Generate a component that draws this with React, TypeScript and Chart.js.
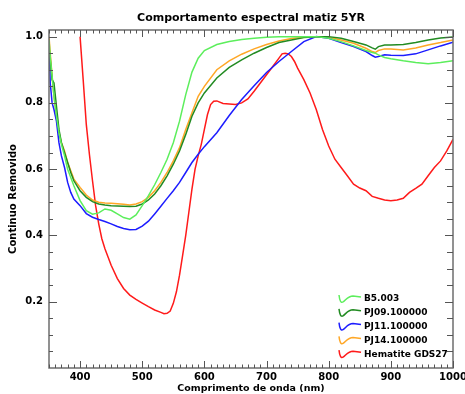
import React, { useEffect, useRef } from "react";
import { Chart, registerables } from "chart.js";
Chart.register(...registerables);

const chartTitle = "Comportamento espectral matiz 5YR";
const xAxisTitle = "Comprimento de onda (nm)";
const yAxisTitle = "Continuo Removido";

const xTickValues = [400, 500, 600, 700, 800, 900, 1000];
const yTickValues = [0.2, 0.4, 0.6, 0.8, 1.0];

const wavelengths = [350, 352, 355, 358, 362, 366, 370, 375, 380, 385, 390, 400, 410, 420, 430, 440, 450, 460, 470, 480, 490, 500, 510, 520, 530, 540, 550, 560, 570, 580, 590, 600, 620, 640, 660, 680, 700, 720, 740, 760, 780, 800, 820, 840, 860, 870, 875, 880, 890, 900, 920, 940, 960, 980, 1000];

const b5003 = [0.99, 0.94, 0.88, 0.82, 0.76, 0.71, 0.675, 0.64, 0.6, 0.575, 0.55, 0.505, 0.475, 0.464, 0.468, 0.48, 0.476, 0.465, 0.454, 0.449, 0.462, 0.49, 0.52, 0.553, 0.59, 0.63, 0.68, 0.745, 0.825, 0.893, 0.935, 0.958, 0.976, 0.985, 0.991, 0.995, 0.998, 1.0, 1.0, 1.0, 1.0, 0.995, 0.985, 0.972, 0.958, 0.952, 0.95, 0.945, 0.937, 0.933, 0.927, 0.922, 0.918, 0.922, 0.927];

const pj09 = [0.97, 0.93, 0.87, 0.86, 0.79, 0.72, 0.68, 0.65, 0.62, 0.59, 0.565, 0.535, 0.515, 0.502, 0.495, 0.492, 0.49, 0.489, 0.488, 0.487, 0.488, 0.495, 0.507, 0.525, 0.55, 0.58, 0.615, 0.655, 0.705, 0.76, 0.8, 0.83, 0.875, 0.907, 0.93, 0.95, 0.967, 0.982, 0.99, 0.997, 1.0, 1.0, 0.995, 0.985, 0.975, 0.966, 0.962, 0.97, 0.975, 0.975, 0.976, 0.982, 0.99, 0.996, 0.999];

const pj11 = [0.975, 0.86, 0.8, 0.78, 0.745, 0.68, 0.64, 0.605, 0.56, 0.53, 0.51, 0.49, 0.466, 0.455, 0.448, 0.442, 0.435, 0.427, 0.421, 0.417, 0.418, 0.428, 0.443, 0.465, 0.488, 0.512, 0.535, 0.56, 0.59, 0.62, 0.645, 0.668, 0.71, 0.762, 0.81, 0.852, 0.892, 0.925, 0.955, 0.985, 1.0, 0.995, 0.982, 0.97, 0.955, 0.943, 0.938, 0.94, 0.945, 0.944, 0.943, 0.948, 0.96, 0.972, 0.983];

const pj14 = [1.0, 0.95, 0.88, 0.82, 0.76, 0.71, 0.68, 0.655, 0.62, 0.595, 0.57, 0.545, 0.522, 0.507, 0.5, 0.498, 0.497, 0.496, 0.494, 0.492, 0.495, 0.502, 0.515, 0.535, 0.56, 0.59, 0.625, 0.665, 0.72, 0.77, 0.82, 0.85, 0.9, 0.927, 0.947, 0.963, 0.976, 0.987, 0.994, 0.998, 1.0, 0.998, 0.99, 0.98, 0.965, 0.955, 0.952, 0.958, 0.963, 0.963, 0.96, 0.966, 0.975, 0.982, 0.99];

const hematiteWavelengths = [400, 405, 410, 415, 420, 425, 430, 435, 440, 445, 450, 460, 470, 480, 490, 500, 510, 520, 530, 535, 540, 545, 550, 555, 560, 565, 570, 575, 580, 585, 590, 595, 600, 605, 610, 615, 620, 630, 640, 650, 660, 670, 680, 690, 700, 710, 720, 725, 730, 735, 740, 745, 750, 760, 770, 780, 790, 800, 810, 820, 830, 840, 850, 860, 870, 880, 890, 900, 910, 920, 930, 940, 950, 960, 970, 980, 990, 1000];

const hematite = [1.0, 0.87, 0.735, 0.645, 0.565, 0.49, 0.435, 0.39, 0.36, 0.335, 0.31, 0.27, 0.24, 0.22, 0.207, 0.196, 0.185, 0.175, 0.168, 0.164, 0.165, 0.172, 0.195, 0.23, 0.28, 0.34, 0.4, 0.47, 0.54, 0.6, 0.64, 0.675, 0.72, 0.765, 0.795, 0.805, 0.806, 0.798, 0.797, 0.795, 0.8, 0.812, 0.835, 0.86, 0.885, 0.91, 0.935, 0.948, 0.95, 0.948, 0.94, 0.925, 0.905, 0.87, 0.83, 0.78, 0.72, 0.67, 0.63, 0.605, 0.58, 0.555, 0.543, 0.535, 0.518, 0.512, 0.507, 0.505, 0.507, 0.512, 0.53, 0.542, 0.555, 0.58, 0.605, 0.625, 0.655, 0.69];

const seriesLabels = ["B5.003", "PJ09.100000", "PJ11.100000", "PJ14.100000", "Hematite GDS27"];
const seriesColors = ["#5cee5c", "#228b22", "#1c1cff", "#ffa726", "#ff1a1a"];

const FONT = '"DejaVu Sans", sans-serif';

const decorPlugin = {
  id: "decor",
  beforeDraw(chart: any) {
    const ctx = chart.ctx;
    ctx.save();
    ctx.fillStyle = "#ffffff";
    ctx.fillRect(0, 0, chart.width, chart.height);
    ctx.restore();
  },
  afterDraw(chart: any) {
    const ctx = chart.ctx;
    const { left, right, top, bottom } = chart.chartArea;
    const xs = chart.scales.x;
    const ys = chart.scales.y;
    ctx.save();
    // frame
    ctx.strokeStyle = "#6e6e6e";
    ctx.lineWidth = 1.5;
    ctx.strokeRect(left, top, right - left, bottom - top);
    // x ticks
    ctx.lineWidth = 1;
    ctx.strokeStyle = "#555";
    for (let v = 350; v <= 1000; v += 10) {
      const px = Math.round(xs.getPixelForValue(v)) + 0.5;
      const major = v % 100 === 0;
      const len = major ? 7 : 3.5;
      ctx.beginPath();
      ctx.moveTo(px, bottom);
      ctx.lineTo(px, bottom - len);
      ctx.moveTo(px, top);
      ctx.lineTo(px, top + len);
      ctx.stroke();
    }
    // y ticks
    for (let k = 1; k <= 20; k++) {
      const v = k * 0.05;
      const py = Math.round(ys.getPixelForValue(v)) + 0.5;
      const major = k % 4 === 0;
      const len = major ? 8 : 4;
      ctx.beginPath();
      ctx.moveTo(left, py);
      ctx.lineTo(left + len, py);
      ctx.moveTo(right, py);
      ctx.lineTo(right - (major ? 8 : 6), py);
      ctx.stroke();
    }
    // tick labels
    ctx.fillStyle = "#000";
    ctx.font = `bold 10px ${FONT}`;
    ctx.textAlign = "center";
    ctx.textBaseline = "middle";
    xTickValues.forEach((v) => {
      ctx.fillText(String(v), xs.getPixelForValue(v), bottom + 9);
    });
    ctx.textAlign = "right";
    yTickValues.forEach((v) => {
      ctx.fillText(v.toFixed(1), left - 6, ys.getPixelForValue(v));
    });
    // titles
    ctx.textAlign = "center";
    ctx.font = `bold 11px ${FONT}`;
    ctx.fillText(chartTitle, (left + right) / 2, 18);
    ctx.font = `bold 9.5px ${FONT}`;
    ctx.fillText(xAxisTitle, (left + right) / 2, bottom + 21);
    ctx.font = `bold 10px ${FONT}`;
    ctx.save();
    ctx.translate(13, (top + bottom) / 2);
    ctx.rotate(-Math.PI / 2);
    ctx.fillText(yAxisTitle, 0, 0);
    ctx.restore();
    // legend
    const lx = right - 114;
    const ly0 = bottom - 69;
    chart.data.datasets.forEach((ds: any, i: number) => {
      const yc = ly0 + i * 13.8;
      ctx.strokeStyle = ds.borderColor;
      ctx.lineWidth = 1.5;
      ctx.beginPath();
      ctx.moveTo(lx, yc - 4);
      ctx.quadraticCurveTo(lx + 1, yc + 5, lx + 4, yc + 3);
      ctx.bezierCurveTo(lx + 7, yc + 1, lx + 9, yc - 3, lx + 14, yc - 3);
      ctx.lineTo(lx + 22, yc - 2);
      ctx.stroke();
      ctx.fillStyle = "#000";
      ctx.textAlign = "left";
      ctx.font = `bold 9px ${FONT}`;
      ctx.fillText(ds.label, lx + 25, yc);
    });
    ctx.restore();
  },
};

export default function App() {
  const ref = useRef<HTMLCanvasElement>(null);
  useEffect(() => {
    const canvas = ref.current as HTMLCanvasElement;
    const pts = (xsArr: number[], ysArr: number[]) => xsArr.map((x, i) => ({ x, y: ysArr[i] }));
    const seriesData = [
      pts(wavelengths, b5003),
      pts(wavelengths, pj09),
      pts(wavelengths, pj11),
      pts(wavelengths, pj14),
      pts(hematiteWavelengths, hematite),
    ];
    const chart = new Chart(canvas, {
      type: "line",
      data: {
        datasets: seriesData.map((d, i) => ({
          label: seriesLabels[i],
          data: d,
          borderColor: seriesColors[i],
          backgroundColor: seriesColors[i],
          borderWidth: 1.5,
          pointRadius: 0,
          tension: 0,
          fill: false,
        })),
      },
      options: {
        animation: false,
        responsive: false,
        events: [],
        layout: { padding: { left: 49, right: 12, top: 30, bottom: 26 } },
        scales: {
          x: { type: "linear", min: 350, max: 1000, display: false },
          y: { type: "linear", min: 0, max: 1.02, display: false },
        },
        plugins: {
          legend: { display: false },
          tooltip: { enabled: false },
          title: { display: false },
        },
      },
      plugins: [decorPlugin],
    } as any);
    return () => chart.destroy();
  }, []);
  return (
    <div style={{ position: "fixed", left: 0, top: 0, width: 465, height: 394, background: "#fff" }}>
      <canvas ref={ref} width={465} height={394} style={{ display: "block" }} />
    </div>
  );
}
